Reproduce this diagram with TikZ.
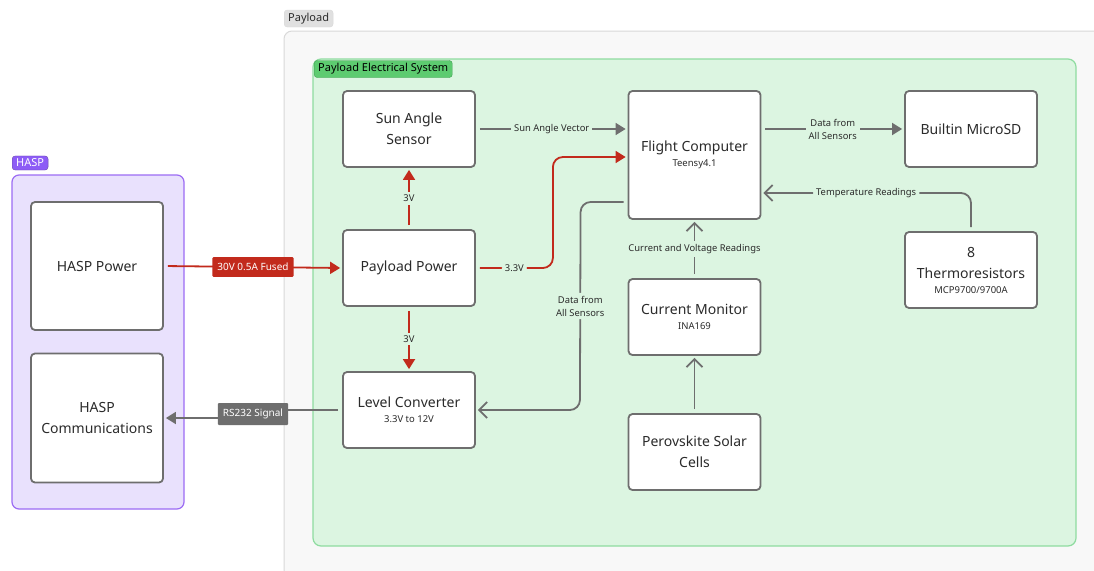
\documentclass[tikz,border=0pt]{standalone}
\usepackage{fontspec}
\setmainfont{Noto Sans}
\usepackage{tikz}
\usetikzlibrary{calc}
\usetikzlibrary{arrows.meta}
\usetikzlibrary{positioning}

\definecolor{boxline}{HTML}{6E6E6E}
\definecolor{txtdark}{HTML}{2B2B2B}
\definecolor{pwred}{HTML}{C22A1C}
\definecolor{plfill}{HTML}{F8F8F8}
\definecolor{plline}{HTML}{D9D9D9}
\definecolor{plchip}{HTML}{E0E0E0}
\definecolor{elfill}{HTML}{DCF5E1}
\definecolor{elline}{HTML}{8FDCA0}
\definecolor{elchip}{HTML}{5DCB70}
\definecolor{elchipline}{HTML}{3E9E50}
\definecolor{hafill}{HTML}{E9E1FD}
\definecolor{haline}{HTML}{9C6CF4}
\definecolor{hachip}{HTML}{8D5CF6}

\tikzset{
  block/.style = {draw=boxline, line width=1.8pt, fill=white, rounded corners=4pt,
    minimum width=132pt, minimum height=76pt, align=center, text=txtdark,
    font=\fontsize{14}{21}\selectfont},
  wire/.style = {draw=boxline, line width=1.8pt, shorten <=4pt, shorten >=2pt},
  power/.style = {draw=pwred, line width=1.8pt, shorten <=4pt, shorten >=2pt},
  solidtip/.style = {-{Triangle[length=10pt,width=12pt]}},
  opentip/.style = {-{Straight Barb[length=8pt,width=16pt]}},
  lbl/.style = {fill=elfill, text=txtdark, inner sep=3pt, align=center,
    font=\fontsize{9.4}{13}\selectfont},
  chip/.style = {rounded corners=3pt, inner xsep=4pt, inner ysep=3pt, font=\fontsize{11}{13}\selectfont},
  wiretag/.style = {rounded corners=1pt, inner xsep=5pt, inner ysep=6pt, text=white,
    font=\fontsize{10}{12}\selectfont},
}
\newcommand{\subtxt}[1]{{\fontsize{9.5}{11}\selectfont #1}}

\begin{document}
\begin{tikzpicture}[x=1pt, y=-1pt]
\clip (0,0) rectangle (1094,570);
\fill[white] (0,0) rectangle (1094,570);

% containers
\draw[fill=plfill, draw=plline, line width=1pt, rounded corners=8pt] (284,31) rectangle (1130,600);
\node[chip, fill=plchip, draw=plline, anchor=west, text=txtdark] (plTag) at (284,18.5) {Payload};
\draw[fill=elfill, draw=elline, line width=1.2pt, rounded corners=8pt] (313,59) rectangle (1076,546);
\node[chip, fill=elchip, draw=elchipline, anchor=west, text=black] (elTag) at (314,69) {Payload Electrical System};
\draw[fill=hafill, draw=haline, line width=1.2pt, rounded corners=7pt] (12,175) rectangle (184,509);
\node[chip, fill=hachip, draw=haline!70!black, anchor=west, text=white] (haTag) at (12,163) {HASP};

% blocks
\node[block, minimum height=128pt] (hpow) at (97,266) {HASP Power};
\node[block, minimum height=129pt] (hcom) at (97,418) {HASP\\Communications};
\node[block] (sas) at (409,129) {Sun Angle\\Sensor};
\node[block] (ppow) at (409,268) {Payload Power};
\node[block] (lconv) at (409,410) {Level Converter\\[-6pt]\subtxt{3.3V to 12V}};
\node[block, minimum height=128pt] (fc) at (694.5,155) {Flight Computer\\[-6pt]\subtxt{Teensy4.1}};
\node[block] (cmon) at (694.5,317) {Current Monitor\\[-6pt]\subtxt{INA169}};
\node[block] (solar) at (694.5,452) {Perovskite Solar\\Cells};
\node[block] (sd) at (971,129) {Builtin MicroSD};
\node[block] (therm) at (971,270) {8\\Thermoresistors\\[-6pt]\subtxt{MCP9700/9700A}};

% power lines
\draw[power, solidtip] (hpow.east) -- (ppow.west)
  node[midway, wiretag, fill=pwred] {30V 0.5A Fused};
\draw[power, solidtip] (ppow.north) -- (sas.south) node[midway, lbl] {3V};
\draw[power, solidtip] (ppow.south) -- (lconv.north) node[midway, lbl] {3V};
\draw[power, solidtip, rounded corners=10pt] (ppow.east) -- node[lbl] {3.3V} ++(77,0) |- ([yshift=-2pt]fc.west);

% data lines
\draw[wire, solidtip] (sas.east) -- (sas.east -| fc.west) node[midway, lbl] {Sun Angle Vector};
\draw[wire, solidtip] (fc.east |- sd.west) -- (sd.west) node[midway, lbl] {Data from\\All Sensors};
\draw[wire, opentip, rounded corners=10pt] ([yshift=-47pt]fc.west) -- ++(-47,0)
  -- node[lbl] {Data from\\All Sensors} ($(lconv.east)+(104,0)$) -- (lconv.east);
\draw[wire, opentip, rounded corners=10pt] (therm.north) |- node[pos=0.75, lbl] {Temperature Readings} ([yshift=-38pt]fc.east);
\draw[wire, opentip] (cmon.north) -- (fc.south) node[midway, lbl] {Current and Voltage Readings};
\draw[wire, opentip] (solar.north) -- (cmon.south);

% rs232 out
\coordinate (rsMid) at ($(lconv.west)!0.5!(hcom.east)$);
\draw[wire, solidtip] (lconv.west) -| (rsMid) |- (hcom.east);
\node[wiretag, fill=boxline] (rsTag) at (rsMid) {RS232 Signal};
\end{tikzpicture}
\end{document}
